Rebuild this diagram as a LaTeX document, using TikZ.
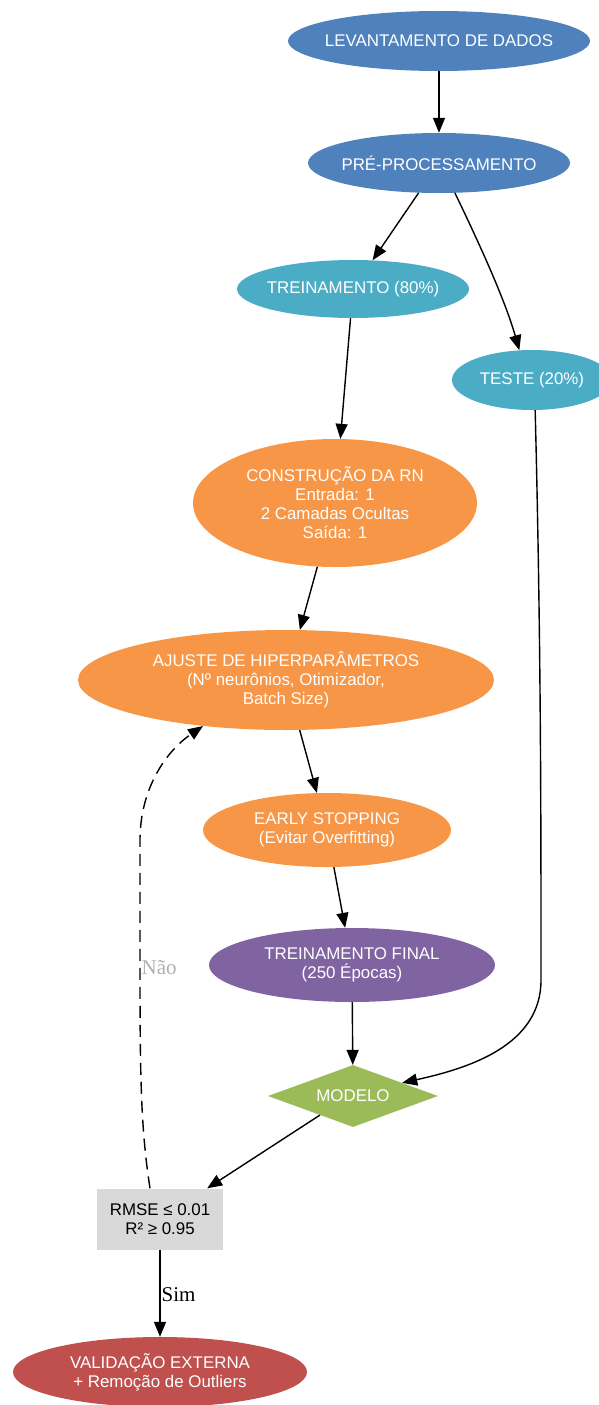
\documentclass[tikz,border=0pt]{standalone}
\usepackage{fontspec}
\setmainfont{Liberation Sans}
\newfontfamily\labelfont{Liberation Serif}
\usetikzlibrary{shapes.geometric,arrows.meta}

\definecolor{cblue}{HTML}{4F81BD}
\definecolor{ccyan}{HTML}{4BACC6}
\definecolor{corange}{HTML}{F79646}
\definecolor{cpurple}{HTML}{8064A2}
\definecolor{cgreen}{HTML}{9BBB59}
\definecolor{cgray}{HTML}{D9D9D9}
\definecolor{cred}{HTML}{C0504D}
\definecolor{clabel}{HTML}{B0B0B0}

\tikzset{
  base/.style={inner sep=0pt, align=center, text=white,
    font=\fontsize{16.9}{19}\selectfont},
  % negative horizontal padding lets the minimum size fix the oval
  oval/.style={base, ellipse, inner xsep=-60pt, minimum width=#1},
  blueoval/.style={oval=#1, fill=cblue},
  cyanoval/.style={oval=#1, fill=ccyan},
  orangeoval/.style={oval=#1, fill=corange},
  purpleoval/.style={oval=#1, fill=cpurple},
  redoval/.style={oval=#1, fill=cred},
  decision/.style={base, diamond, fill=cgreen, aspect=2.7,
    minimum width=170pt, minimum height=62pt},
  checkbox/.style={base, rectangle, fill=cgray, text=black,
    minimum width=126pt, minimum height=61pt},
  flow/.style={line width=1.4pt, -{Triangle[length=15pt,width=12pt]}},
  loopback/.style={flow, dash pattern=on 12pt off 7pt},
  edgelabel/.style={font=\labelfont\fontsize{21}{24}\selectfont, inner sep=1pt}
}

\begin{document}
\begin{tikzpicture}[x=1pt, y=-1pt]
\useasboundingbox (0,0) rectangle (598,1405);

% pipeline stages
\node[blueoval=302pt, minimum height=60pt] (lev) at (439,41) {LEVANTAMENTO DE DADOS};
\node[blueoval=262pt, minimum height=60pt] (pre) at (439,163) {PRÉ-PROCESSAMENTO};
\node[cyanoval=232pt, minimum height=58pt] (trein) at (353,289) {TREINAMENTO (80\%)};
\node[cyanoval=160pt, minimum height=60pt] (teste) at (532,380) {TESTE (20\%)};
\node[orangeoval=284pt, minimum height=128pt] (rn) at (335,503)
  {CONSTRUÇÃO DA RN\\Entrada: 1\\2 Camadas Ocultas\\Saída: 1};
\node[orangeoval=416pt, minimum height=100pt] (ajuste) at (286,680)
  {AJUSTE DE HIPERPARÂMETROS\\(Nº neurônios, Otimizador,\\Batch Size)};
\node[orangeoval=248pt, minimum height=74pt] (early) at (327,830)
  {EARLY STOPPING\\(Evitar Overfitting)};
\node[purpleoval=286pt, minimum height=74pt] (final) at (352,965)
  {TREINAMENTO FINAL\\(250 Épocas)};
\node[decision] (modelo) at (353,1096) {MODELO};
\node[checkbox] (rmse) at (160,1219) {RMSE ≤ 0.01\\R² ≥ 0.95};
\node[redoval=294pt, minimum height=70pt] (valid) at (160,1372)
  {VALIDAÇÃO EXTERNA\\+ Remoção de Outliers};

% connectors
\draw[flow] (lev) -- (pre);
\draw[flow] (pre) -- (trein);
\draw[flow] (pre.-62) .. controls (480,245) and (505,300) .. (teste.113);
\draw[flow] (trein) -- (rn);
\draw[flow] (teste.-84) .. controls (541,640) and (541,820) .. (541,980)
  .. controls (541,1045) and (470,1068) .. (modelo.15);
\draw[flow] (rn) -- (ajuste);
\draw[flow] (ajuste) -- (early);
\draw[flow] (early) -- (final);
\draw[flow] (final) -- (modelo);
\draw[flow] (modelo.-150) -- ([xshift=-16pt]rmse.north east);
\draw[loopback] ([xshift=-10pt]rmse.north) .. controls (141,1130) and (140,1080) .. (140,968)
  node[edgelabel, anchor=west, text=clabel] {Não}
  -- (140,840) .. controls (140,790) and (165,752) .. (ajuste.209);
\draw[flow] (rmse) -- node[edgelabel, anchor=west, pos=0.52] {Sim} (valid);
\end{tikzpicture}
\end{document}
